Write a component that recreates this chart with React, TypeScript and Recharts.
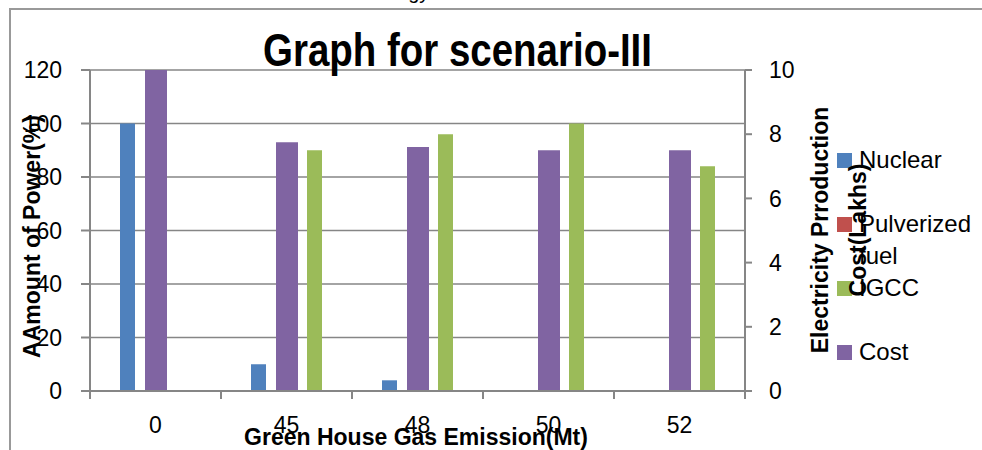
import React from "react";
import { BarChart, Bar, XAxis, YAxis, CartesianGrid, Legend } from "recharts";

// data
const emissions = ["0", "45", "48", "50", "52"];
const nuclear = [100, 10, 4, 0, 0];
const pulverized = [0, 0, 0, 0, 0];
const igcc = [0, 90, 96, 100, 84];
const cost = [10, 7.75, 7.6, 7.5, 7.5];
const powerTicks = [0, 20, 40, 60, 80, 100, 120];
const costTicks = [0, 2, 4, 6, 8, 10];
const seriesNames = ["Nuclear", "Pulverized fuel", "IGCC", "Cost"];

const chartData = emissions.map((cat, i) => ({
  cat,
  nuclear: nuclear[i],
  pulverized: pulverized[i],
  igcc: igcc[i],
  cost: cost[i],
}));

const FONT = "'Liberation Sans', Arial, sans-serif";
const AXIS = "#868686";

const CategoryTick = (props: any) => {
  const { x, y, payload, index, visibleTicksCount } = props;
  const half = payload?.offset ?? 65.5;
  const last = index === (visibleTicksCount ?? emissions.length) - 1;
  return (
    <g>
      <line x1={x - half} x2={x - half} y1={y} y2={y + 8} stroke={AXIS} strokeWidth={2} />
      {last && <line x1={x + half} x2={x + half} y1={y} y2={y + 8} stroke={AXIS} strokeWidth={2} />}
      <text x={x} y={y + 42} textAnchor="middle" fontSize={23} fontFamily={FONT} fill="#000">
        {payload.value}
      </text>
    </g>
  );
};

// Excel-style legend, kept in series order
const LegendList = (props: any) => {
  const items = [...(props.payload || [])].sort(
    (a: any, b: any) => seriesNames.indexOf(a.value) - seriesNames.indexOf(b.value)
  );
  return (
    <div style={{ fontFamily: FONT, fontSize: 24, color: "#000" }}>
      {items.map((it: any) => (
        <div key={it.value} style={{ height: 64, position: "relative" }}>
          <div
            style={{
              position: "absolute",
              left: 0,
              top: 25,
              width: 15,
              height: 15,
              background: it.color,
            }}
          />
          <div style={{ position: "absolute", left: 22, top: 16, width: 118, lineHeight: "32px" }}>
            {it.value}
          </div>
        </div>
      ))}
    </div>
  );
};

export default function App() {
  return (
    <div style={{ position: "absolute", left: 0, top: 0, width: 982, height: 450, background: "#fff", overflow: "hidden" }}>
      {/* page frame behind the chart */}
      <div
        style={{
          position: "absolute",
          left: 9,
          top: 8,
          width: 990,
          height: 460,
          borderTop: "2px solid #999",
          borderLeft: "2px solid #999",
        }}
      />
      <BarChart
        width={982}
        height={450}
        data={chartData}
        margin={{ top: 70, right: 197, left: 50, bottom: 29 }}
        barGap={13}
      >
        <CartesianGrid vertical={false} stroke={AXIS} strokeWidth={1.5} />
        <XAxis
          dataKey="cat"
          height={30}
          stroke={AXIS}
          strokeWidth={2}
          tickLine={false}
          tickSize={0}
          tickMargin={0}
          tick={<CategoryTick />}
          interval={0}
        />
        <XAxis xAxisId="s" dataKey="cat" hide />
        <YAxis
          domain={[0, 120]}
          ticks={powerTicks}
          width={40}
          stroke={AXIS}
          strokeWidth={2}
          tickSize={9}
          tickMargin={19}
          tick={{ fill: "#000", fontSize: 23, fontFamily: FONT }}
          interval={0}
        />
        <YAxis
          yAxisId="r"
          orientation="right"
          domain={[0, 10]}
          ticks={costTicks}
          width={40}
          stroke={AXIS}
          strokeWidth={2}
          tickSize={7}
          tickMargin={17}
          tick={{ fill: "#000", fontSize: 23, fontFamily: FONT, textAnchor: "start" }}
          interval={0}
        />
        <Legend
          layout="vertical"
          align="center"
          verticalAlign="middle"
          content={<LegendList />}
          wrapperStyle={{ left: 837, top: 128, width: 145, height: 256 }}
        />
        <Bar dataKey="nuclear" name="Nuclear" fill="#4F81BD" barSize={15} isAnimationActive={false} />
        <Bar dataKey="pulverized" name="Pulverized fuel" fill="#C0504D" barSize={15} isAnimationActive={false} />
        <Bar dataKey="igcc" name="IGCC" fill="#9BBB59" barSize={15} isAnimationActive={false} />
        <Bar
          dataKey="cost"
          name="Cost"
          xAxisId="s"
          yAxisId="r"
          fill="#8064A2"
          barSize={22}
          isAnimationActive={false}
        />
      </BarChart>
      <svg
        width={982}
        height={450}
        style={{ position: "absolute", left: 0, top: 0, pointerEvents: "none" }}
      >
        <text x={366} y={-1} fontSize={20} fontFamily={FONT} fill="#000">Energy</text>
        <text
          x={457.5}
          y={66}
          textAnchor="middle"
          fontSize={46}
          fontWeight="bold"
          fontFamily={FONT}
          textLength={389}
          lengthAdjust="spacingAndGlyphs"
          fill="#000"
        >
          Graph for scenario-III
        </text>
        <text
          x={32}
          y={236.5}
          transform="rotate(-90 32 236.5)"
          textAnchor="middle"
          dominantBaseline="central"
          fontSize={23}
          fontWeight="bold"
          fontFamily={FONT}
          fill="#000"
        >
          AAmount of Power(%)
        </text>
        <text
          x={820}
          y={230}
          transform="rotate(-90 820 230)"
          textAnchor="middle"
          dominantBaseline="central"
          fontSize={23}
          fontWeight="bold"
          fontFamily={FONT}
          fill="#000"
        >
          Electricity Prroduction
        </text>
        <text
          x={858}
          y={230}
          transform="rotate(-90 858 230)"
          textAnchor="middle"
          dominantBaseline="central"
          fontSize={23}
          fontWeight="bold"
          fontFamily={FONT}
          fill="#000"
        >
          Cost(Lakhs)
        </text>
        <text
          x={416}
          y={445}
          textAnchor="middle"
          fontSize={23}
          fontWeight="bold"
          fontFamily={FONT}
          fill="#000"
        >
          Green House Gas Emission(Mt)
        </text>
      </svg>
    </div>
  );
}
